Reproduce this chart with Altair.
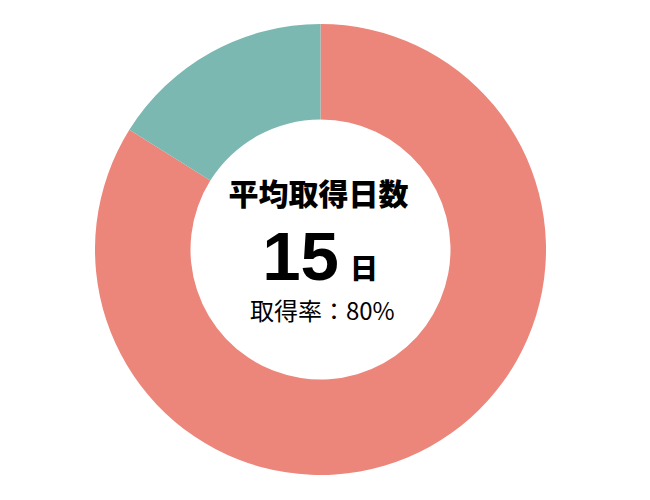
import altair as alt
import pandas as pd

categories = ["取得", "未取得"]
values = [83.9, 16.1]
colors = ["#EC857A", "#7BB8B2"]

title_text = "平均取得日数"
days_text = "15"
unit_text = "日"
rate_text = "取得率：80%"

df = pd.DataFrame({"cat": categories, "val": values, "order": [0, 1]})

W, H = 625, 483

donut = alt.Chart(df).mark_arc(outerRadius=225.5, innerRadius=130, stroke=None).encode(
    theta=alt.Theta("val:Q", stack=True),
    color=alt.Color("cat:N", scale=alt.Scale(domain=categories, range=colors), legend=None),
    order=alt.Order("order:Q"),
)

def label(text, x, y, size, weight, align="center", baseline="middle", font="Noto Sans CJK JP"):
    return alt.Chart(pd.DataFrame({"t": [text]})).mark_text(
        align=align, baseline=baseline, fontSize=size, fontWeight=weight, font=font, color="#000000"
    ).encode(text="t:N", x=alt.value(x), y=alt.value(y))

t1 = label(title_text, 310.5, 187.5, 30, 900)
t2 = label(days_text, 331, 272, 69, "bold", align="right", baseline="alphabetic",
           font="'Liberation Sans', Arial, sans-serif")
t3 = label(unit_text, 342, 270.5, 28, 900, align="left", baseline="alphabetic")
t4 = label(rate_text, 314.3, 305, 24, "normal")

chart = alt.layer(donut, t1, t2, t3, t4).properties(
    width=W, height=H, padding=0, autosize=alt.AutoSizeParams(type="none")
).configure_view(stroke=None)

chart.save("out.html", embed_options={"renderer": "svg", "actions": False})
